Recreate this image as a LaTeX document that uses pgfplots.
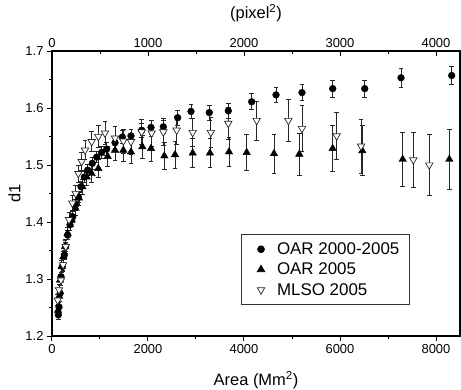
\documentclass[border=0pt]{standalone}
\usepackage{fontspec}
\setmainfont{Liberation Sans}
\usepackage{pgfplots}
\pgfplotsset{compat=1.18}

% OAR 2000-2005 (filled circles)
\pgfplotstableread{
x y e
132 1.237 0.008
146 1.251 0.008
170 1.275 0.008
188 1.304 0.008
215 1.322 0.008
257 1.342 0.008
285 1.357 0.008
326 1.377 0.008
375 1.395 0.009
431 1.409 0.009
493 1.430 0.009
549 1.444 0.010
604 1.462 0.010
674 1.479 0.010
743 1.491 0.010
840 1.503 0.010
931 1.514 0.010
1035 1.522 0.011
1139 1.528 0.011
1313 1.539 0.011
1465 1.549 0.011
1646 1.551 0.011
1868 1.561 0.012
2063 1.566 0.012
2319 1.567 0.012
2618 1.583 0.013
2896 1.594 0.013
3277 1.592 0.013
3673 1.595 0.013
4160 1.611 0.014
4667 1.623 0.014
5208 1.627 0.014
5848 1.634 0.015
6515 1.634 0.015
7271 1.653 0.016
8327 1.657 0.016
}\oarall

% OAR 2005 (filled triangles)
\pgfplotstableread{
x y e
125 1.245 0.010
150 1.270 0.010
167 1.298 0.010
201 1.322 0.010
236 1.339 0.010
271 1.357 0.010
326 1.380 0.011
410 1.404 0.011
493 1.424 0.012
563 1.442 0.012
632 1.462 0.013
722 1.479 0.014
826 1.485 0.015
965 1.494 0.016
1160 1.515 0.017
1313 1.526 0.018
1486 1.526 0.019
1646 1.523 0.020
1882 1.532 0.020
2063 1.529 0.022
2340 1.516 0.023
2563 1.518 0.024
2931 1.521 0.025
3290 1.521 0.026
3688 1.523 0.026
4056 1.522 0.032
4625 1.520 0.034
5152 1.519 0.037
5847 1.529 0.040
6465 1.525 0.044
7306 1.510 0.048
8277 1.510 0.052
}\oarfive

% MLSO 2005 (open triangles)
\pgfplotstableread{
x y e
118 1.263 0.010
146 1.281 0.010
188 1.298 0.010
230 1.325 0.010
285 1.357 0.012
354 1.404 0.012
424 1.433 0.013
493 1.450 0.014
549 1.485 0.015
618 1.506 0.016
688 1.526 0.017
826 1.541 0.018
965 1.550 0.019
1104 1.556 0.020
1313 1.547 0.020
1486 1.542 0.021
1646 1.541 0.022
1868 1.558 0.022
2076 1.556 0.023
2319 1.558 0.023
2597 1.561 0.024
2931 1.557 0.025
3310 1.557 0.026
3673 1.573 0.028
4264 1.578 0.034
4924 1.578 0.037
5208 1.564 0.040
5931 1.551 0.042
6438 1.533 0.047
7527 1.509 0.049
7860 1.500 0.053
}\mlso

\begin{document}
\begin{tikzpicture}
\begin{axis}[
    name=ax,
    scale only axis, width=408bp, height=285bp,
    xmin=0, xmax=8500, ymin=1.2, ymax=1.7,
    xtick={0,2000,4000,6000,8000}, minor x tick num=1,
    ytick={1.2,1.3,1.4,1.5,1.6,1.7}, minor y tick num=1,
    xtick pos=bottom, ytick pos=left, tick align=outside,
    major tick length=5bp, minor tick length=3bp,
    axis line style={line width=1.3bp},
    every tick/.style={line width=1bp, black},
    scaled ticks=false,
    /pgf/number format/assume math mode=true,
    /pgf/number format/set thousands separator={},
    ticklabel style={font=\fontsize{13}{15}\selectfont},
    yticklabel style={/pgf/number format/fixed, /pgf/number format/precision=1,
        /pgf/number format/fixed zerofill},
    xlabel={Area (Mm\textsuperscript{2})},
    ylabel={d1},
    label style={font=\fontsize{16.5}{19}\selectfont},
    xlabel style={at={(axis description cs:0.5,-0.155)}, anchor=center},
    ylabel style={at={(axis description cs:-0.092,0.5)}, anchor=center},
    error bars/y dir=both, error bars/y explicit,
    error bars/error bar style={line width=0.8bp, black!85},
    error bars/error mark options={rotate=90, mark size=2.3bp, line width=0.8bp, black!85},
    legend style={at={(0.877,0.109)}, anchor=south east, draw=black!80,
        line width=0.8bp, font=\fontsize{17}{20}\selectfont,
        inner xsep=8bp, inner ysep=6bp, row sep=3bp},
    legend cell align=left,
    legend image code/.code={%
        \path[draw=none, fill=none] (0bp,-4bp) rectangle (26bp,4bp);
        \draw[#1] plot coordinates {(12bp,0bp)};},
]
\addplot[only marks, mark=*, mark size=3.4bp, black]
    table[x=x, y=y, y error=e] {\oarall};
\addlegendentry{OAR 2000-2005}
\addplot[only marks, mark=triangle*, mark size=4.3bp, black]
    table[x=x, y=y, y error=e] {\oarfive};
\addlegendentry{OAR 2005}
\addplot[only marks, mark=triangle*, mark size=4.3bp, black!85,
    mark options={rotate=180, fill=white, line width=0.7bp}]
    table[x=x, y=y, y error=e] {\mlso};
\addlegendentry{MLSO 2005}
\end{axis}
\begin{axis}[
    scale only axis, width=408bp, height=285bp,
    xmin=0, xmax=4250, ymin=1.2, ymax=1.7,
    axis x line*=top, hide y axis,
    xtick={0,1000,2000,3000,4000}, minor x tick num=1,
    tick align=inside,
    major tick length=5bp, minor tick length=3bp,
    axis line style={line width=1.3bp},
    every tick/.style={line width=1bp, black},
    scaled ticks=false,
    /pgf/number format/assume math mode=true,
    /pgf/number format/set thousands separator={},
    ticklabel style={font=\fontsize{13}{15}\selectfont},
    xlabel={(pixel\textsuperscript{2})},
    label style={font=\fontsize{16.5}{19}\selectfont},
    xlabel style={at={(axis description cs:0.5,1.133)}, anchor=center},
]
\end{axis}
\pgfresetboundingbox
\path[use as bounding box] ([shift={(-52bp,-54bp)}]ax.south west)
    rectangle ([shift={(1bp,51bp)}]ax.north east);
\end{tikzpicture}
\end{document}
